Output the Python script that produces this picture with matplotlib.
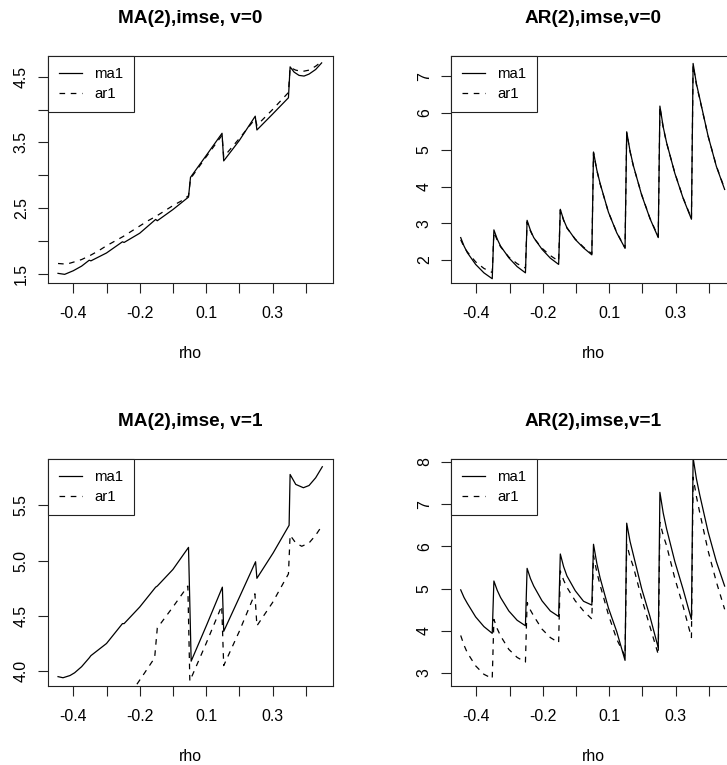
import matplotlib
matplotlib.use("Agg")
import matplotlib.pyplot as plt

plt.rcParams['font.family'] = ['Liberation Sans', 'DejaVu Sans']

# x axis: equally spaced rho grid (0 skipped), R drops every other label
rho_ticks = [1, 2, 3, 4, 5, 6, 7, 8]
rho_labels = ["-0.4", "", "-0.2", "", "0.1", "", "0.3", ""]

# ---- MA(2), imse, v=0 ----
ma_v0_pos = [0.54, 0.74, 1.0, 1.25, 1.48, 1.53, 2.0, 2.48, 2.53, 3.0, 3.48, 3.53,
             4.0, 4.47, 4.53, 5.0, 5.48, 5.53, 6.0, 6.48, 6.53, 7.0, 7.48, 7.53,
             7.65, 7.8, 7.95, 8.1, 8.3, 8.48]
ma_v0_ma1 = [1.51, 1.495, 1.55, 1.62, 1.71, 1.70, 1.82, 1.99, 1.98, 2.12, 2.33, 2.31,
             2.48, 2.67, 2.97, 3.30, 3.64, 3.22, 3.53, 3.90, 3.69, 3.93, 4.18, 4.65,
             4.57, 4.52, 4.51, 4.54, 4.61, 4.71]
ma_v0_ar1_pos = [0.54, 0.8, 1.0, 1.25, 1.5, 1.75, 2.0, 2.25, 2.5, 2.75, 3.0, 3.25,
                 3.5, 3.75, 4.0, 4.25, 4.47, 4.53, 5.0, 5.48, 5.53, 6.0, 6.48, 6.53,
                 7.0, 7.48, 7.53, 7.7, 7.9, 8.1, 8.3, 8.48]
ma_v0_ar1 = [1.66, 1.65, 1.68, 1.72, 1.78, 1.85, 1.93, 2.00, 2.07, 2.15, 2.23, 2.31,
             2.38, 2.46, 2.54, 2.61, 2.69, 2.95, 3.28, 3.61, 3.28, 3.56, 3.86, 3.76,
             4.00, 4.26, 4.64, 4.60, 4.58, 4.60, 4.66, 4.73]

# ---- MA(2), imse, v=1 ----
ma_v1_pos = [0.54, 0.69, 0.9, 1.04, 1.25, 1.48, 1.53, 2.0, 2.48, 2.53, 3.0, 3.48,
             3.53, 4.0, 4.47, 4.55, 5.02, 5.49, 5.53, 6.02, 6.49, 6.53, 7.02, 7.5,
             7.53, 7.7, 7.93, 8.1, 8.3, 8.5]
ma_v1_ma1 = [3.95, 3.94, 3.96, 3.985, 4.04, 4.12, 4.14, 4.25, 4.43, 4.43, 4.58, 4.76,
             4.77, 4.92, 5.12, 4.09, 4.42, 4.76, 4.36, 4.68, 4.99, 4.84, 5.07, 5.32,
             5.78, 5.69, 5.66, 5.68, 5.75, 5.85]
ma_v1_ar1_pos = [2.55, 2.8, 3.15, 3.45, 3.53, 4.0, 4.45, 4.51, 5.0, 5.47, 5.53, 6.0,
                 6.47, 6.53, 7.0, 7.48, 7.53, 7.7, 7.88, 8.1, 8.3, 8.5]
ma_v1_ar1 = [3.71, 3.83, 3.985, 4.12, 4.39, 4.58, 4.77, 3.91, 4.25, 4.59, 4.05, 4.36,
             4.70, 4.41, 4.62, 4.88, 5.23, 5.16, 5.13, 5.16, 5.23, 5.32]

# ---- AR(2) panels: sawtooth, six samples per rho cell ----
ar_pos = [0.53, 0.63, 0.73, 0.98, 1.23, 1.48,
          1.53, 1.63, 1.73, 1.98, 2.23, 2.48,
          2.53, 2.63, 2.73, 2.98, 3.23, 3.48,
          3.53, 3.63, 3.73, 3.98, 4.23, 4.48,
          4.53, 4.63, 4.73, 4.98, 5.23, 5.48,
          5.53, 5.63, 5.73, 5.98, 6.23, 6.48,
          6.53, 6.63, 6.73, 6.98, 7.23, 7.48,
          7.53, 7.63, 7.73, 7.98, 8.23, 8.48]
ar_v0_ma1 = [2.61, 2.38, 2.20, 1.88, 1.65, 1.49,
             2.82, 2.57, 2.38, 2.06, 1.82, 1.65,
             3.08, 2.81, 2.61, 2.29, 2.05, 1.88,
             3.38, 3.09, 2.88, 2.56, 2.33, 2.14,
             4.94, 4.45, 4.08, 3.30, 2.74, 2.32,
             5.49, 4.97, 4.57, 3.77, 3.13, 2.61,
             6.19, 5.62, 5.20, 4.36, 3.68, 3.11,
             7.35, 6.80, 6.40, 5.38, 4.55, 3.92]
ar_v0_ar1 = [2.55, 2.36, 2.22, 1.95, 1.77, 1.66,
             2.76, 2.54, 2.36, 2.08, 1.90, 1.78,
             3.04, 2.79, 2.60, 2.32, 2.12, 1.97,
             3.36, 3.08, 2.87, 2.57, 2.35, 2.17,
             4.92, 4.44, 4.07, 3.30, 2.75, 2.33,
             5.46, 4.95, 4.56, 3.78, 3.14, 2.63,
             6.16, 5.60, 5.19, 4.37, 3.69, 3.13,
             7.30, 6.77, 6.38, 5.38, 4.56, 3.94]
ar_v1_ma1 = [4.97, 4.79, 4.65, 4.33, 4.10, 3.94,
             5.18, 4.96, 4.79, 4.47, 4.25, 4.12,
             5.48, 5.24, 5.06, 4.71, 4.47, 4.34,
             5.82, 5.52, 5.30, 4.95, 4.70, 4.61,
             6.05, 5.60, 5.25, 4.54, 3.98, 3.30,
             6.55, 6.12, 5.80, 5.00, 4.34, 3.60,
             7.28, 6.79, 6.42, 5.64, 4.98, 4.27,
             8.10, 7.60, 7.22, 6.35, 5.64, 5.06]
ar_v1_ar1 = [3.89, 3.66, 3.48, 3.17, 2.97, 2.87,
             4.27, 4.05, 3.88, 3.56, 3.37, 3.26,
             4.67, 4.49, 4.35, 4.04, 3.84, 3.72,
             5.42, 5.20, 5.03, 4.71, 4.47, 4.28,
             5.78, 5.39, 5.08, 4.38, 3.80, 3.40,
             6.05, 5.75, 5.52, 4.77, 4.10, 3.44,
             6.57, 6.26, 6.02, 5.24, 4.58, 3.84,
             7.64, 7.18, 6.80, 5.90, 5.16, 4.51]

W, H = 727, 765
AW, AH = 284.4, 226.7


def place(left, top):
    return [left / W, (H - top - AH) / H, AW / W, AH / H]


fig = plt.figure(figsize=(W / 100, H / 100), dpi=100)

panels = [
    ("MA(2),imse, v=0", 48.3, 56, ma_v0_pos, ma_v0_ma1, ma_v0_ar1_pos, ma_v0_ar1,
     (1.368, 4.815), [1.5, 2.0, 2.5, 3.0, 3.5, 4.0, 4.5],
     ["1.5", "", "2.5", "", "3.5", "", "4.5"]),
    ("AR(2),imse,v=0", 451.3, 56, ar_pos, ar_v0_ma1, ar_pos, ar_v0_ar1,
     (1.382, 7.553), [2, 3, 4, 5, 6, 7], ["2", "3", "4", "5", "6", "7"]),
    ("MA(2),imse, v=1", 48.3, 459, ma_v1_pos, ma_v1_ma1, ma_v1_ar1_pos, ma_v1_ar1,
     (3.868, 5.92), [4.0, 4.5, 5.0, 5.5], ["4.0", "4.5", "5.0", "5.5"]),
    ("AR(2),imse,v=1", 451.3, 459, ar_pos, ar_v1_ma1, ar_pos, ar_v1_ar1,
     (2.70, 8.07), [3, 4, 5, 6, 7, 8], ["3", "4", "5", "6", "7", "8"]),
]

for title, left, top, xs, ma1, xd, ar1, ylim, yt, ytl in panels:
    ax = fig.add_axes(place(left, top))
    ax.plot(xs, ma1, color='black', lw=0.9, label='ma1')
    ax.plot(xd, ar1, color='black', lw=0.9, ls=(0, (4.5, 4.5)), label='ar1')
    ax.set_xlim(0.247, 8.813)
    ax.set_ylim(*ylim)
    ax.set_xticks(rho_ticks)
    ax.set_xticklabels(rho_labels)
    ax.set_yticks(yt)
    ax.set_yticklabels(ytl)
    for t in ax.get_yticklabels():
        t.set_rotation(90)
        t.set_va('center')
    ax.tick_params(length=7, width=0.8, labelsize=11.4, pad=7, color='#222222')
    ax.tick_params(axis='x', pad=10)
    for s in ax.spines.values():
        s.set_linewidth(0.8)
        s.set_color('#222222')
    ax.set_title(title, fontsize=13.7, fontweight='bold', pad=24)
    ax.set_xlabel('rho', fontsize=11.4, labelpad=18)
    leg = ax.legend(loc='upper left', borderaxespad=0, fontsize=10.8,
                    handlelength=1.5, handletextpad=0.82, borderpad=0.74,
                    labelspacing=0.38, fancybox=False, framealpha=1)
    leg.get_frame().set_edgecolor('#222222')
    leg.get_frame().set_linewidth(0.8)

fig.savefig('out.png', dpi=100)
